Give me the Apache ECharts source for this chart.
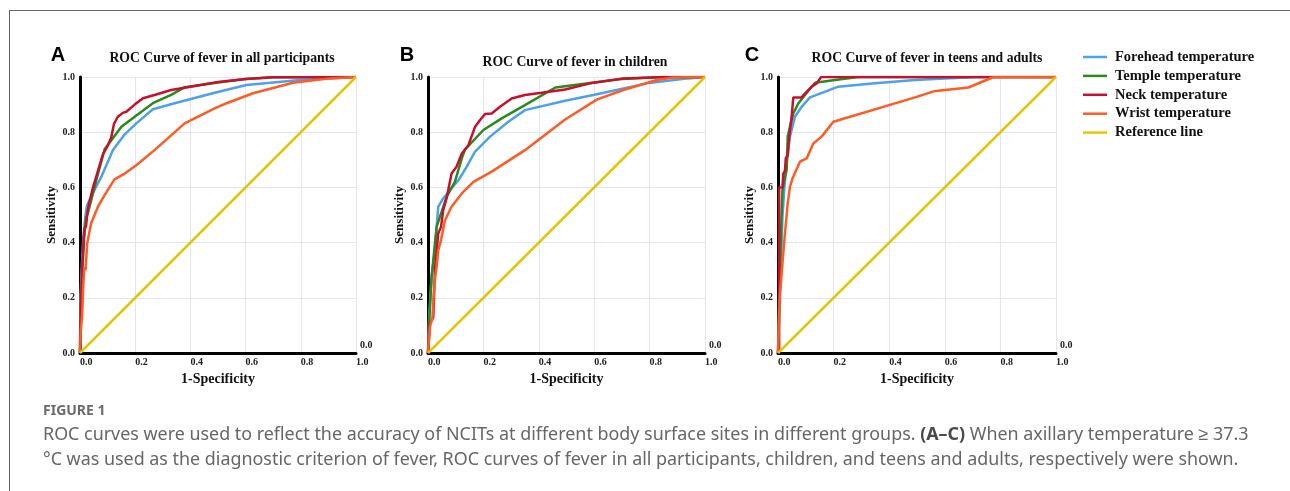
<!DOCTYPE html>
<html>
<head>
<meta charset="utf-8">
<script src="https://cdn.jsdelivr.net/npm/echarts@6/dist/echarts.min.js"></script>
<style>
html, body { margin: 0; padding: 0; background: #fff; overflow: hidden; }
#main { width: 1290px; height: 491px; }
#frame { position: absolute; left: 9px; top: 10px; width: 1290px; height: 490px;
  border-left: 1px solid #666; border-top: 1px solid #666; pointer-events: none; }
</style>
</head>
<body>
<div id="main"></div>
<div id="frame"></div>
<script>
// legend names (same order as in the figure)
var names = ['Forehead temperature', 'Temple temperature', 'Neck temperature', 'Wrist temperature', 'Reference line'];
var colors = ['#4da0ea', '#2a8a1e', '#c8102e', '#ff5b24', '#e1c70c'];
var panelLetters = ['A', 'B', 'C'];
var panelTitles = ['ROC Curve of fever in all participants', 'ROC Curve of fever in children', 'ROC Curve of fever in teens and adults'];

// A - all participants  [1-specificity, sensitivity]
var aForehead = [[0,0],[0.002,0.2],[0.006,0.3],[0.012,0.42],[0.02,0.5],[0.026,0.536],[0.04,0.566],[0.077,0.638],[0.119,0.735],[0.16,0.79],[0.204,0.832],[0.264,0.883],[0.343,0.905],[0.488,0.943],[0.603,0.971],[0.797,0.989],[1,1]];
var aTemple = [[0,0],[0.002,0.18],[0.008,0.3],[0.015,0.42],[0.022,0.49],[0.028,0.505],[0.047,0.578],[0.059,0.626],[0.089,0.738],[0.113,0.77],[0.15,0.82],[0.198,0.856],[0.264,0.905],[0.33,0.935],[0.38,0.963],[0.5,0.98],[0.6,0.993],[0.7,0.999],[1,1]];
var aNeck = [[0,0],[0.003,0.15],[0.008,0.3],[0.012,0.38],[0.016,0.45],[0.022,0.46],[0.028,0.52],[0.047,0.6],[0.065,0.66],[0.083,0.72],[0.1,0.75],[0.113,0.78],[0.123,0.83],[0.137,0.856],[0.155,0.87],[0.168,0.874],[0.198,0.9],[0.228,0.923],[0.27,0.935],[0.33,0.953],[0.4,0.965],[0.5,0.982],[0.6,0.993],[0.7,0.999],[1,1]];
var aWrist = [[0,0],[0.003,0.08],[0.008,0.14],[0.012,0.25],[0.016,0.31],[0.02,0.3],[0.026,0.397],[0.04,0.469],[0.065,0.53],[0.089,0.572],[0.125,0.629],[0.162,0.65],[0.204,0.68],[0.27,0.735],[0.379,0.832],[0.488,0.886],[0.531,0.905],[0.627,0.941],[0.772,0.979],[0.906,0.995],[1,1]];

// B - children
var bForehead = [[0,0],[0.004,0.13],[0.013,0.276],[0.025,0.372],[0.037,0.53],[0.055,0.56],[0.079,0.59],[0.11,0.626],[0.14,0.675],[0.17,0.73],[0.224,0.784],[0.29,0.838],[0.35,0.88],[0.495,0.914],[0.597,0.935],[0.79,0.977],[0.94,0.995],[1,1]];
var bTemple = [[0,0],[0.004,0.106],[0.013,0.276],[0.031,0.457],[0.043,0.493],[0.067,0.566],[0.097,0.62],[0.122,0.705],[0.134,0.738],[0.2,0.808],[0.266,0.85],[0.35,0.898],[0.46,0.962],[0.6,0.98],[0.7,0.993],[0.85,1],[1,1]];
var bNeck = [[0,0],[0.007,0.106],[0.019,0.13],[0.025,0.3],[0.037,0.433],[0.047,0.457],[0.055,0.518],[0.067,0.56],[0.085,0.65],[0.103,0.675],[0.122,0.723],[0.146,0.753],[0.17,0.82],[0.188,0.844],[0.206,0.866],[0.23,0.868],[0.26,0.892],[0.302,0.922],[0.35,0.935],[0.41,0.943],[0.495,0.955],[0.585,0.977],[0.705,0.995],[0.85,1],[1,1]];
var bWrist = [[0,0],[0.007,0.094],[0.016,0.13],[0.023,0.25],[0.031,0.312],[0.037,0.372],[0.047,0.409],[0.061,0.48],[0.085,0.53],[0.122,0.578],[0.164,0.62],[0.23,0.657],[0.35,0.735],[0.495,0.846],[0.609,0.918],[0.705,0.953],[0.826,0.989],[0.886,0.998],[1,1]];

// C - teens and adults
var cForehead = [[0,0],[0.007,0.2],[0.011,0.324],[0.016,0.493],[0.023,0.6],[0.031,0.687],[0.043,0.784],[0.061,0.856],[0.085,0.892],[0.115,0.926],[0.217,0.965],[0.349,0.977],[0.493,0.989],[0.6,0.995],[0.72,1],[1,1]];
var cTemple = [[0,0],[0.004,0.203],[0.011,0.445],[0.016,0.59],[0.023,0.626],[0.031,0.663],[0.035,0.784],[0.043,0.82],[0.055,0.868],[0.073,0.904],[0.097,0.935],[0.133,0.979],[0.205,0.989],[0.289,1],[1,1]];
var cNeck = [[0,0],[0.004,0.01],[0.004,0.6],[0.016,0.6],[0.019,0.65],[0.025,0.66],[0.028,0.705],[0.035,0.717],[0.04,0.78],[0.049,0.856],[0.055,0.926],[0.085,0.926],[0.097,0.94],[0.121,0.965],[0.139,0.977],[0.155,1],[1,1]];
var cWrist = [[0,0],[0.006,0.2],[0.013,0.203],[0.016,0.324],[0.023,0.326],[0.025,0.433],[0.031,0.439],[0.035,0.542],[0.043,0.602],[0.052,0.632],[0.079,0.693],[0.103,0.705],[0.127,0.759],[0.157,0.784],[0.199,0.838],[0.493,0.926],[0.56,0.948],[0.685,0.962],[0.775,1],[1,1]];

var refLine = [[0,0],[1,1]];

var panels = [
  [aForehead, aTemple, aNeck, aWrist, refLine],
  [bForehead, bTemple, bNeck, bWrist, refLine],
  [cForehead, cTemple, cNeck, cWrist, refLine]
];

// plot boxes and title positions
var grids = [
  { left: 80, top: 77, width: 276, height: 276 },
  { left: 428, top: 77, width: 277, height: 276 },
  { left: 778, top: 77, width: 278, height: 276 }
];
var titlePos = [[222, 58], [575, 62], [927, 58]];
var letterPos = [[58, 55], [407, 55], [752, 55]];

var serif = 'Liberation Serif';
var chart = echarts.init(document.getElementById('main'));

var xAxes = [], yAxes = [], series = [], graphics = [];
grids.forEach(function (g, i) {
  xAxes.push({
    gridIndex: i, type: 'value', min: 0, max: 1, interval: 0.2,
    name: '1-Specificity', nameLocation: 'middle', nameGap: 17,
    nameTextStyle: { fontFamily: serif, fontWeight: 'bold', fontSize: 14, color: '#111' },
    axisLine: { lineStyle: { color: '#000', width: 3 } },
    axisTick: { show: false },
    axisLabel: {
      fontFamily: serif, fontWeight: 'bold', fontSize: 10, color: '#222', margin: 4, align: 'left',
      formatter: function (v) { return v.toFixed(1); }
    },
    splitLine: { show: true, lineStyle: { color: '#e4e4f8', width: 1 } }
  });
  yAxes.push({
    gridIndex: i, type: 'value', min: 0, max: 1, interval: 0.2,
    name: 'Sensitivity', nameLocation: 'middle', nameGap: 18,
    nameTextStyle: { fontFamily: serif, fontWeight: 'bold', fontSize: 13, color: '#111' },
    axisLine: { show: true, lineStyle: { color: '#000', width: 3 } },
    axisTick: { show: false },
    axisLabel: {
      fontFamily: serif, fontWeight: 'bold', fontSize: 10, color: '#222', margin: 5,
      padding: [0, 0, 7, 0],
      formatter: function (v) { return v.toFixed(1); }
    },
    splitLine: { show: true, lineStyle: { color: '#e4e4f8', width: 1 } }
  });
  panels[i].forEach(function (d, k) {
    series.push({
      name: names[k], type: 'line', xAxisIndex: i, yAxisIndex: i,
      data: d, symbol: 'none', smooth: false, animation: false,
      lineStyle: { color: colors[k], width: 2.5 },
      itemStyle: { color: colors[k] },
      z: k === 4 ? 3 : 2
    });
  });
  graphics.push({
    type: 'text', x: titlePos[i][0], y: titlePos[i][1],
    style: { text: panelTitles[i], font: 'bold 13.7px "Liberation Serif"', fill: '#111', textAlign: 'center', textVerticalAlign: 'middle' }
  });
  graphics.push({
    type: 'text', x: letterPos[i][0], y: letterPos[i][1],
    style: { text: panelLetters[i], font: 'bold 20px "Liberation Sans"', fill: '#000', textAlign: 'center', textVerticalAlign: 'middle' }
  });
  // the stray "0.0" at the right end of the x axis
  graphics.push({
    type: 'text', x: g.left + g.width + 4, y: 345,
    style: { text: '0.0', font: 'bold 10px "Liberation Serif"', fill: '#222', textAlign: 'left', textVerticalAlign: 'middle' }
  });
});

var capFont = '"Noto Sans", sans-serif';
graphics.push({
  type: 'text', x: 43, y: 411,
  style: { text: 'FIGURE 1', font: 'bold 14px ' + capFont, fill: '#6a6a6a', textVerticalAlign: 'middle' }
});
graphics.push({
  type: 'text', x: 43, y: 435,
  style: {
    text: 'ROC curves were used to reflect the accuracy of NCITs at different body surface sites in different groups. {b|(A–C)} When axillary temperature ≥ 37.3',
    font: '17.9px ' + capFont, fill: '#666', textVerticalAlign: 'middle',
    rich: { b: { font: 'bold 17.9px ' + capFont, fill: '#4a4a4a' } }
  }
});
graphics.push({
  type: 'text', x: 43, y: 460,
  style: {
    text: '°C was used as the diagnostic criterion of fever, ROC curves of fever in all participants, children, and teens and adults, respectively were shown.',
    font: '17.9px ' + capFont, fill: '#666', textVerticalAlign: 'middle'
  }
});

var option = {
  backgroundColor: '#fff',
  animation: false,
  grid: grids,
  xAxis: xAxes,
  yAxis: yAxes,
  legend: {
    orient: 'vertical', left: 1083, top: 49.5, padding: 0,
    data: names, icon: 'rect', itemWidth: 24, itemHeight: 2.5, itemGap: 3.9,
    textStyle: { fontFamily: serif, fontWeight: 'bold', fontSize: 14.5, color: '#111', lineHeight: 14, padding: [0, 0, 0, 3] }
  },
  graphic: graphics,
  series: series
};
chart.setOption(option);
</script>
</body>
</html>
